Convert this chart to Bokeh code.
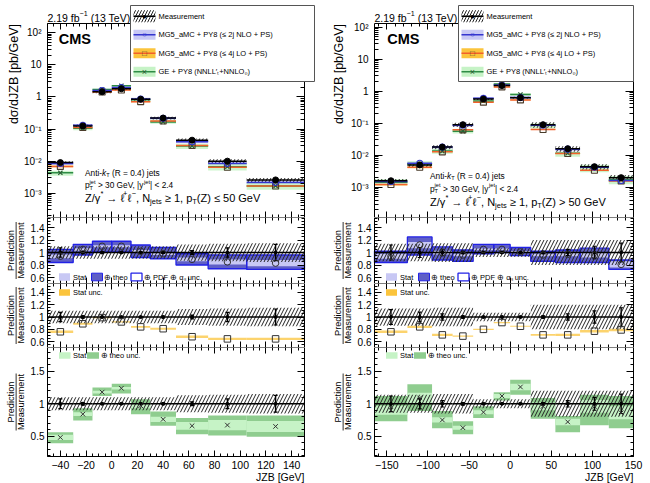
import numpy as np
from bokeh.plotting import figure
from bokeh.layouts import row, column
from bokeh.models import (FixedTicker, Label, BoxAnnotation, LinearAxis, Range1d,
                          CustomJSTickFormatter)
from bokeh.embed import file_html
from bokeh.resources import INLINE

FONT = "Liberation Sans"

# ---------------- data: pT(Z) <= 50 GeV ----------------
edges_low = [-50, -30, -15, 0, 15, 30, 50, 75, 105, 150]
meas_low = [9.0e-3, 0.125, 1.45, 1.8, 0.85, 0.22, 0.045, 0.0100, 0.0026]
meas_tot_low = [0.10, 0.10, 0.10, 0.10, 0.10, 0.10, 0.13, 0.14, 0.15]
meas_stat_low = [0.075, 0.02, 0.01, 0.01, 0.01, 0.015, 0.03, 0.075, 0.13]
nlo_low = [0.94, 1.05, 1.10, 1.10, 1.02, 0.98, 0.89, 0.85, 0.83]
nlo_low_dn = [0.84, 0.96, 1.01, 1.01, 0.92, 0.90, 0.80, 0.74, 0.73]
nlo_low_up = [1.05, 1.13, 1.18, 1.18, 1.12, 1.08, 0.98, 0.96, 0.96]
nlo_low_stat = [0.03, 0.02, 0.015, 0.015, 0.02, 0.02, 0.03, 0.04, 0.05]
lo_low = [0.76, 0.89, 0.99, 0.92, 0.84, 0.81, 0.68, 0.645, 0.645]
lo_low_stat = [0.02, 0.015, 0.01, 0.01, 0.015, 0.015, 0.02, 0.02, 0.02]
ge_low = [0.48, 0.84, 1.18, 1.24, 0.97, 0.76, 0.66, 0.67, 0.65]
ge_low_dn = [0.39, 0.74, 1.12, 1.16, 0.84, 0.66, 0.53, 0.51, 0.49]
ge_low_up = [0.56, 0.93, 1.25, 1.31, 1.07, 0.88, 0.78, 0.82, 0.82]
ge_low_stat = [0.04, 0.03, 0.02, 0.02, 0.04, 0.04, 0.06, 0.08, 0.085]

# ---------------- data: pT(Z) > 50 GeV ----------------
edges_high = [-165, -125, -95, -70, -45, -20, 0, 25, 55, 85, 120, 150]
meas_high = [1.6e-3, 5.0e-3, 1.8e-2, 0.09, 0.57, 1.5, 0.63, 0.09, 0.016, 4.4e-3, 2.0e-3]
meas_tot_high = [0.14, 0.14, 0.15, 0.15, 0.07, 0.07, 0.07, 0.20, 0.20, 0.20, 0.20]
meas_stat_high = [0.12, 0.08, 0.05, 0.02, 0.01, 0.01, 0.01, 0.02, 0.05, 0.10, 0.15]
nlo_high = [0.94, 1.12, 1.00, 0.96, 1.05, 1.05, 1.01, 0.96, 0.97, 0.96, 0.81]
nlo_high_dn = [0.84, 0.96, 0.88, 0.86, 0.98, 1.00, 0.95, 0.86, 0.84, 0.84, 0.73]
nlo_high_up = [1.02, 1.25, 1.09, 1.04, 1.13, 1.13, 1.08, 1.02, 1.04, 1.07, 0.88]
nlo_high_stat = [0.04, 0.05, 0.03, 0.02, 0.015, 0.015, 0.015, 0.02, 0.03, 0.04, 0.05]
lo_high = [0.76, 0.84, 0.71, 0.69, 0.80, 0.91, 0.85, 0.71, 0.71, 0.77, 0.79]
lo_high_stat = [0.02, 0.02, 0.02, 0.01, 0.01, 0.01, 0.01, 0.015, 0.02, 0.02, 0.02]
ge_high = [0.90, 1.09, 0.75, 0.63, 0.87, 1.12, 1.26, 0.96, 0.72, 0.96, 0.86]
ge_high_dn = [0.73, 0.89, 0.62, 0.53, 0.78, 1.05, 1.14, 0.77, 0.56, 0.67, 0.62]
ge_high_up = [1.12, 1.30, 0.89, 0.73, 0.96, 1.18, 1.37, 1.09, 0.81, 1.14, 1.12]
ge_high_stat = [0.07, 0.08, 0.04, 0.03, 0.03, 0.03, 0.05, 0.06, 0.05, 0.10, 0.10]

# ---------------- ticks and their labels ----------------
xticks_low = [-40, -20, 0, 20, 40, 60, 80, 100, 120, 140]
xlabels_low = ["−40", "−20", "0", "20", "40", "60", "80", "100", "120", "140"]
xticks_high = [-150, -100, -50, 0, 50, 100, 150]
xlabels_high = ["−150", "−100", "−50", "0", "50", "100", "150"]
log_ticks = [1e-3, 1e-2, 1e-1, 1, 10, 100]
log_labels = ["10⁻³", "10⁻²", "10⁻¹", "1", "10", "10²"]
ratio_ticks = [0.6, 0.8, 1, 1.2, 1.4]
ratio_labels = ["0.6", "0.8", "1", "1.2", "1.4"]
ratio3_ticks = [0.5, 1, 1.5]
ratio3_labels = ["0.5", "1", "1.5"]

legend_labels = ["Measurement", "MG5_aMC + PY8 (≤ 2j NLO + PS)",
                 "MG5_aMC + PY8 (≤ 4j LO + PS)", "GE + PY8 (NNLL′ₜ+NNLO₀)"]

# colours
C_NLO = "#3535cf"
C_NLO_STAT = "#c8c8f4"
C_NLO_THEO = "#5f5fc6"
C_NLO_PDF = "#2222e6"
C_LO_LINE = "#f2602a"
C_LO_BAND = "#fbc43c"
C_GE = "#2f8c46"
C_GE_STAT = "#c6f3c6"
C_GE_THEO = "#8fcd8f"
C_MARK = "#333333"

# Arial-like advance widths (1/1000 em) used to chain rich-text pieces
W = {' ': 278, '!': 278, '(': 333, ')': 333, '*': 389, '+': 584, ',': 278, '-': 333,
     '.': 278, '/': 278, ':': 278, '<': 584, '=': 584, '>': 584, '|': 260, '[': 278,
     ']': 278, 'A': 667, 'B': 667, 'C': 722, 'D': 722, 'E': 667, 'F': 611, 'G': 778,
     'H': 722, 'I': 278, 'J': 500, 'K': 667, 'L': 556, 'M': 833, 'N': 722, 'O': 778,
     'P': 667, 'Q': 778, 'R': 722, 'S': 667, 'T': 611, 'U': 722, 'V': 667, 'W': 944,
     'X': 667, 'Y': 667, 'Z': 611, 'a': 556, 'b': 556, 'c': 500, 'd': 556, 'e': 556,
     'f': 278, 'g': 556, 'h': 556, 'i': 222, 'j': 222, 'k': 500, 'l': 222, 'm': 833,
     'n': 556, 'o': 556, 'p': 556, 'q': 556, 'r': 333, 's': 500, 't': 278, 'u': 556,
     'v': 500, 'w': 722, 'x': 500, 'y': 500, 'z': 500, 'γ': 520, '→': 838, 'ℓ': 390,
     '≥': 549, '≤': 549, '−': 584, 'σ': 570}


def tw(s, fs):
    return sum(W.get(c, 556) for c in s) * fs / 1000.0


def to_data(fg, px, py):
    """Page pixel -> data coordinates, extrapolated from the drawn frame of a panel."""
    x0, x1 = fg["xr"]
    y0, y1 = fg["yr"]
    x = x0 + (px - fg["FL"]) / (fg["FR"] - fg["FL"]) * (x1 - x0)
    t = (fg["FB"] - py) / (fg["FB"] - fg["FT"])
    if fg["log"]:
        y = 10 ** (np.log10(y0) + t * (np.log10(y1) - np.log10(y0)))
    else:
        y = y0 + t * (y1 - y0)
    return float(x), float(y)


def make_fg(x0, width, CT, CB, FL, FR, FT, FB, xr, yr, log):
    fg = dict(CL=x0, CR=x0 + width, CT=CT, CB=CB, FL=FL, FR=FR, FT=FT, FB=FB,
              xr=xr, yr=yr, log=log, w=width, h=CB - CT)
    # the plotting area spans the whole canvas; the drawn frame sits inside it
    rx0, ry0 = to_data(fg, x0, CB)
    rx1, ry1 = to_data(fg, x0 + width, CT)
    fg["rx"] = (rx0, rx1)
    fg["ry"] = (ry0, ry1)
    return fg


def put_text(p, fg, px, py, text, fs, align="left", color="black", **kw):
    # py is the vertical centre of the text
    x, y = to_data(fg, px, py)
    p.add_layout(Label(x=x, y=y, text=text, text_font=FONT, text_font_size=f"{fs:.2f}px",
                       text_color=color, text_align=align, text_baseline="middle", **kw))


def put_box(p, fg, l, r, t, b, fill=None, line=None, lw=1.0, **kw):
    xa, ya = to_data(fg, l, b)
    xb, yb = to_data(fg, r, t)
    p.add_layout(BoxAnnotation(left=xa, right=xb, bottom=ya, top=yb, fill_color=fill,
                               fill_alpha=1.0, line_color=line, line_alpha=1.0,
                               line_width=lw, **kw))


def rich(p, fg, px, py, segs, fs):
    x = px
    small = 0.68 * fs
    for kind, t in segs:
        size = fs if kind in ("n", "i") else small
        if kind != "ss":
            lead = len(t) - len(t.lstrip(" "))
            x += tw(" " * lead, size)
            t = t.lstrip(" ")
        if kind == "n":
            put_text(p, fg, x, py, t, fs)
            x += tw(t, fs)
        elif kind == "i":
            put_text(p, fg, x, py, t, fs, text_font_style="italic")
            x += tw(t, fs)
        elif kind == "sub":
            put_text(p, fg, x, py + 0.32 * fs, t, small)
            x += tw(t, small)
        elif kind == "sup":
            put_text(p, fg, x, py - 0.40 * fs, t, small)
            x += tw(t, small)
        elif kind == "ss":
            put_text(p, fg, x, py + 0.32 * fs, t[0], small)
            put_text(p, fg, x, py - 0.40 * fs, t[1], small)
            x += max(tw(t[0], small), tw(t[1], small))


def label_fmt(ticks, labels):
    return CustomJSTickFormatter(args=dict(tv=list(map(float, ticks)), tl=list(labels)), code="""
        for (let i = 0; i < tv.length; i++) {
            if (Math.abs(tv[i] - tick) <= 1e-6 * Math.abs(tv[i]) + 1e-12) { return tl[i] }
        }
        return ""
    """)


def new_fig(fg):
    p = figure(width=fg["w"], height=fg["h"], x_range=Range1d(*fg["rx"]),
               y_range=Range1d(*fg["ry"]), y_axis_type="log" if fg["log"] else "linear",
               output_backend="svg", toolbar_location=None, min_border_left=0,
               min_border_right=0, min_border_top=0, min_border_bottom=0)
    p.xgrid.visible = False
    p.ygrid.visible = False
    p.outline_line_color = None
    p.background_fill_color = "white"
    p.border_fill_color = "white"
    return p


def inside(vals, lo, hi):
    a, b = min(lo, hi), max(lo, hi)
    return [float(v) for v in vals if a - 1e-9 <= v <= b + 1e-9]


def style_axis(ax, major, minor, tin, fixed, fmt=None, fs="10px", standoff=3):
    ax.ticker = FixedTicker(ticks=major, minor_ticks=minor)
    ax.fixed_location = fixed
    ax.major_tick_in = tin
    ax.major_tick_out = 0
    ax.minor_tick_in = max(2, tin // 2)
    ax.minor_tick_out = 0
    ax.axis_line_color = None
    ax.major_tick_line_color = "black"
    ax.minor_tick_line_color = "black"
    ax.axis_label = None
    if fmt is None:
        ax.formatter = CustomJSTickFormatter(code="return ''")
        ax.major_label_text_color = None
    else:
        ax.formatter = fmt
        ax.major_label_text_font = FONT
        ax.major_label_text_font_size = fs
        ax.major_label_text_color = "black"
        ax.major_label_standoff = standoff


def frame(p, fg, xmaj, xmin, ymaj, ymin, tin_x, tin_y, xfmt, yfmt, ystandoff=3):
    (vx0, vx1), (vy0, vy1) = fg["xr"], fg["yr"]
    xmaj, xmin = inside(xmaj, vx0, vx1), inside(xmin, vx0, vx1)
    ymaj, ymin = inside(ymaj, vy0, vy1), inside(ymin, vy0, vy1)
    style_axis(p.xaxis[0], xmaj, xmin, tin_x, vy0, xfmt, fs="10.5px", standoff=4)
    top = LinearAxis()
    p.add_layout(top, "above")
    style_axis(top, xmaj, xmin, tin_x, vy1)
    style_axis(p.yaxis[0], ymaj, ymin, tin_y, vx0, yfmt, fs="10px", standoff=ystandoff)
    right = LinearAxis()
    p.add_layout(right, "right")
    style_axis(right, ymaj, ymin, tin_y, vx1)
    p.add_layout(BoxAnnotation(left=vx0, right=vx1, bottom=vy0, top=vy1, fill_color=None,
                               line_color="black", line_alpha=1.0, line_width=1))


def ratio_ylabel(p, fg):
    yc = 0.5 * (fg["FT"] + fg["FB"])
    FL = fg["FL"]
    put_text(p, fg, FL - 36.5, yc, "Prediction", 9.2, align="center", angle=np.pi / 2)
    put_text(p, fg, FL - 26.3, yc, "Measurement", 9.2, align="center", angle=np.pi / 2)
    put_box(p, fg, FL - 31.8, FL - 31.0, yc - 28.5, yc + 28.5, fill="black")


def measurement_ratio(p, lft, rgt, mid, tot, stat):
    tot = np.array(tot)
    stat = np.array(stat)
    one = np.ones_like(mid)
    p.quad(left=lft, right=rgt, bottom=1 - tot, top=1 + tot, fill_color=None,
           line_color=None, hatch_pattern="/", hatch_color="#222222", hatch_scale=7,
           hatch_weight=1.0)
    p.segment(x0=lft, y0=one, x1=rgt, y1=one, line_color="black", line_width=1.6)
    p.segment(x0=mid, y0=1 - stat, x1=mid, y1=1 + stat, line_color="black", line_width=1.4)
    p.scatter(mid, 1 - stat, marker="dash", size=4, line_color="black", line_width=1.2)
    p.scatter(mid, 1 + stat, marker="dash", size=4, line_color="black", line_width=1.2)
    p.scatter(mid, one, size=3, color="black")


def build_column(d, x0, FL, FR, width=325):
    e = np.array(d["edges"], float)
    lft, rgt, mid = e[:-1], e[1:], 0.5 * (e[:-1] + e[1:])
    xr = (float(e[0]), float(e[-1]))
    meas = np.array(d["meas"])
    tot = np.array(d["tot"])
    stat = np.array(d["stat"])
    xmaj, xmin = d["xmaj"], d["xmin"]
    tin_x = 6

    # ---------- cross section panel ----------
    fg0 = make_fg(x0, width, 0, 217, FL, FR, 23, 217, xr, d["yr"], True)
    p0 = new_fig(fg0)
    minors = [m * 10.0 ** k for k in range(-4, 3) for m in range(2, 10)]
    frame(p0, fg0, xmaj, xmin, log_ticks, minors, tin_x, 8, None,
          label_fmt(log_ticks, log_labels), ystandoff=6)

    nlo = meas * np.array(d["nlo"])
    lo = meas * np.array(d["lo"])
    ge = meas * np.array(d["ge"])
    p0.quad(left=lft, right=rgt, bottom=meas * np.array(d["nlo_dn"]),
            top=meas * np.array(d["nlo_up"]), fill_color=C_NLO_STAT, fill_alpha=0.9,
            line_color=None)
    p0.quad(left=lft, right=rgt, bottom=lo * (1 - 3 * np.array(d["lo_stat"])),
            top=lo * (1 + 3 * np.array(d["lo_stat"])), fill_color=C_LO_BAND, fill_alpha=0.9,
            line_color=None)
    p0.quad(left=lft, right=rgt, bottom=meas * np.array(d["ge_dn"]),
            top=meas * np.array(d["ge_up"]), fill_color=C_GE_STAT, fill_alpha=0.9,
            line_color=None)
    p0.quad(left=lft, right=rgt, bottom=meas * (1 - tot), top=meas * (1 + tot),
            fill_color=None, line_color=None, hatch_pattern="/", hatch_color="#222222",
            hatch_scale=7, hatch_weight=1.0)
    p0.segment(x0=lft, y0=ge, x1=rgt, y1=ge, line_color=C_GE, line_width=1.5)
    p0.segment(x0=lft, y0=lo, x1=rgt, y1=lo, line_color=C_LO_LINE, line_width=1.5)
    p0.segment(x0=lft, y0=nlo, x1=rgt, y1=nlo, line_color=C_NLO, line_width=1.5)
    p0.segment(x0=lft, y0=meas, x1=rgt, y1=meas, line_color="black", line_width=1.5)
    p0.scatter(mid, ge, marker="x", size=6, line_color="#2b5e35", line_width=1.2)
    p0.scatter(mid, lo, marker="square", size=6, fill_color=None, line_color="#4a3b2a",
               line_width=1.1)
    p0.scatter(mid, nlo, marker="circle", size=6, fill_color=None, line_color=C_NLO,
               line_width=1.1)
    p0.segment(x0=mid, y0=meas * (1 - stat), x1=mid, y1=meas * (1 + stat),
               line_color="black", line_width=1.2)
    p0.scatter(mid, meas, size=6, color="black")

    # legend box
    LX = d["leg_x"]
    RX = LX + d["leg_w"]
    put_box(p0, fg0, LX, RX, 5, 81, fill="white", line="#555555", lw=1.0)
    styles = [
        dict(box=None, hatch=True, line="black", mk="●", mkc="black", mfs=8),
        dict(box=C_NLO_STAT, hatch=False, line=C_NLO, mk="○", mkc=C_NLO, mfs=8),
        dict(box=C_LO_BAND, hatch=False, line=C_LO_LINE, mk="□", mkc="#4a3b2a", mfs=8),
        dict(box=C_GE_STAT, hatch=False, line=C_GE, mk="×", mkc="#2b5e35", mfs=9),
    ]
    for i, (lab, st) in enumerate(zip(legend_labels, styles)):
        cy = 15.7 + 18.5 * i
        gx0, gx1 = LX + 3, LX + 25
        if st["hatch"]:
            put_box(p0, fg0, gx0, gx1, cy - 6, cy + 6, hatch_pattern="/",
                    hatch_color="#222222", hatch_scale=6, hatch_weight=1.0, hatch_alpha=1.0)
        else:
            put_box(p0, fg0, gx0, gx1, cy - 5, cy + 5, fill=st["box"])
        put_box(p0, fg0, gx0, gx1, cy - 0.7, cy + 0.7, fill=st["line"])
        put_text(p0, fg0, 0.5 * (gx0 + gx1), cy, st["mk"], st["mfs"], align="center",
                 color=st["mkc"])
        put_text(p0, fg0, LX + 28, cy, lab, 7.5)

    rich(p0, fg0, FL, 17.5, [("n", "2.19 fb"), ("sup", "−1"), ("n", " (13 TeV)")], 10.5)
    put_text(p0, fg0, d["cms_x"], 38.7, "CMS", 14.5, text_font_style="bold")
    put_text(p0, fg0, x0 + 13, 20, "dσ/dJZB  [pb/GeV]", 12.5, align="right",
             angle=np.pi / 2)
    tx, ty = d["txt_x"], d["txt_y"]
    rich(p0, fg0, tx, ty[0], [("n", "Anti-"), ("i", "k"), ("sub", "T"),
                              ("n", " (R = 0.4) jets")], 8.3)
    rich(p0, fg0, tx, ty[1], [("n", "p"), ("ss", ("T", "jet")), ("n", " > 30 GeV, |y"),
                              ("sup", "jet"), ("n", "| < 2.4")], 8.3)
    rich(p0, fg0, tx, ty[2], [("n", "Z/γ"), ("sup", "*"), ("n", " → ℓ"), ("sup", "+"),
                              ("n", "ℓ"), ("sup", "−"), ("n", ", N"), ("sub", "jets"),
                              ("n", " ≥ 1, p"), ("sub", "T"), ("n", d["ptz"])], 11)

    rminor = list(np.round(np.arange(0.55, 1.56, 0.05), 2))

    # ---------- ratio: NLO ----------
    fg1 = make_fg(x0, width, 217, 283, FL, FR, 217, 283, xr, (0.504, 1.56), False)
    p1 = new_fig(fg1)
    r = np.array(d["nlo"])
    s = np.array(d["nlo_stat"])
    p1.quad(left=lft, right=rgt, bottom=d["nlo_dn"], top=d["nlo_up"],
            fill_color=C_NLO_THEO, line_color=None)
    p1.quad(left=lft, right=rgt, bottom=r - s, top=r + s, fill_color=C_NLO_STAT,
            line_color=None)
    p1.quad(left=lft, right=rgt, bottom=d["nlo_dn"], top=d["nlo_up"], fill_color=None,
            line_color=C_NLO_PDF, line_width=1.3)
    measurement_ratio(p1, lft, rgt, mid, tot, stat)
    p1.scatter(mid, r, marker="circle", size=6.5, fill_color=None, line_color=C_MARK,
               line_width=1.0)
    frame(p1, fg1, xmaj, xmin, ratio_ticks, rminor, tin_x, 7, None,
          label_fmt(ratio_ticks, ratio_labels))
    put_box(p1, fg1, FL + 11.5, FL + 22.5, 272.7, 280.3, fill=C_NLO_STAT)
    put_text(p1, fg1, FL + 25.5, 276.5, "Stat", 7.5)
    put_box(p1, fg1, FL + 44, FL + 55, 272.7, 280.3, fill=C_NLO_THEO, line=C_NLO_PDF)
    put_text(p1, fg1, FL + 56.5, 276.5, "⊕ theo", 7.5)
    put_box(p1, fg1, FL + 83.5, FL + 94.5, 272.7, 280.3, fill="white", line=C_NLO_PDF,
            lw=1.3)
    put_text(p1, fg1, FL + 96.5, 276.5, "⊕ PDF ⊕ αₛ unc.", 7.5)
    ratio_ylabel(p1, fg1)

    # ---------- ratio: LO ----------
    fg2 = make_fg(x0, width, 283, 347, FL, FR, 283, 347, xr, (0.505, 1.544), False)
    p2 = new_fig(fg2)
    r = np.array(d["lo"])
    s = np.array(d["lo_stat"])
    p2.quad(left=lft, right=rgt, bottom=r - s, top=r + s, fill_color=C_LO_BAND,
            fill_alpha=0.75, line_color=None)
    measurement_ratio(p2, lft, rgt, mid, tot, stat)
    p2.scatter(mid, r, marker="square", size=6.5, fill_color=None, line_color=C_MARK,
               line_width=1.0)
    frame(p2, fg2, xmaj, xmin, ratio_ticks, rminor, tin_x, 7, None,
          label_fmt(ratio_ticks, ratio_labels))
    put_box(p2, fg2, FL + 11.5, FL + 22.5, 288.7, 295.3, fill=C_LO_BAND)
    put_text(p2, fg2, FL + 25.5, 292.0, "Stat unc.", 7.5)
    ratio_ylabel(p2, fg2)

    # ---------- ratio: GE ----------
    fg3 = make_fg(x0, width, 347, 483, FL, FR, 347, 456, xr, (0.185, 1.87), False)
    p3 = new_fig(fg3)
    r = np.array(d["ge"])
    s = np.array(d["ge_stat"])
    p3.quad(left=lft, right=rgt, bottom=d["ge_dn"], top=d["ge_up"], fill_color=C_GE_THEO,
            line_color=None)
    p3.quad(left=lft, right=rgt, bottom=r - s, top=r + s, fill_color=C_GE_STAT,
            line_color=None)
    measurement_ratio(p3, lft, rgt, mid, tot, stat)
    p3.scatter(mid, r, marker="x", size=6.5, line_color=C_MARK, line_width=1.0)
    frame(p3, fg3, xmaj, xmin, ratio3_ticks, list(np.round(np.arange(0.2, 1.85, 0.1), 2)),
          tin_x, 7, label_fmt(xmaj, d["xlab"]), label_fmt(ratio3_ticks, ratio3_labels))
    put_box(p3, fg3, FL + 11.5, FL + 23, 351.7, 358.3, fill=C_GE_STAT)
    put_text(p3, fg3, FL + 25.5, 355.0, "Stat", 7.5)
    put_box(p3, fg3, FL + 39.5, FL + 51.5, 351.7, 358.3, fill=C_GE_THEO)
    put_text(p3, fg3, FL + 53, 355.0, "⊕ theo unc.", 7.5)
    ratio_ylabel(p3, fg3)
    put_text(p3, fg3, FR, 476.5, "JZB [GeV]", 10.5, align="right")

    return column(p0, p1, p2, p3, spacing=0)


low = dict(edges=edges_low, meas=meas_low, tot=meas_tot_low, stat=meas_stat_low,
           nlo=nlo_low, nlo_dn=nlo_low_dn, nlo_up=nlo_low_up, nlo_stat=nlo_low_stat,
           lo=lo_low, lo_stat=lo_low_stat, ge=ge_low, ge_dn=ge_low_dn, ge_up=ge_low_up,
           ge_stat=ge_low_stat, yr=(10 ** -3.757, 10 ** 2.29),
           xmaj=xticks_low, xlab=xlabels_low, xmin=list(range(-50, 151, 5)),
           leg_x=130, leg_w=184, cms_x=58.3, txt_x=84.5, txt_y=(172.0, 184.5, 197.0),
           ptz="(Z) ≤ 50 GeV")
high = dict(edges=edges_high, meas=meas_high, tot=meas_tot_high, stat=meas_stat_high,
            nlo=nlo_high, nlo_dn=nlo_high_dn, nlo_up=nlo_high_up, nlo_stat=nlo_high_stat,
            lo=lo_high, lo_stat=lo_high_stat, ge=ge_high, ge_dn=ge_high_dn,
            ge_up=ge_high_up, ge_stat=ge_high_stat, yr=(10 ** -3.944, 10 ** 2.115),
            xmaj=xticks_high, xlab=xlabels_high, xmin=list(range(-160, 151, 10)),
            leg_x=458, leg_w=175, cms_x=386.7, txt_x=429.5, txt_y=(175.0, 188.0, 201.5),
            ptz="(Z) > 50 GeV")

layout = row(build_column(low, 0, 47, 304), build_column(high, 325, 374, 633),
             spacing=0)

with open("out.html", "w") as f:
    f.write(file_html(layout, INLINE))
